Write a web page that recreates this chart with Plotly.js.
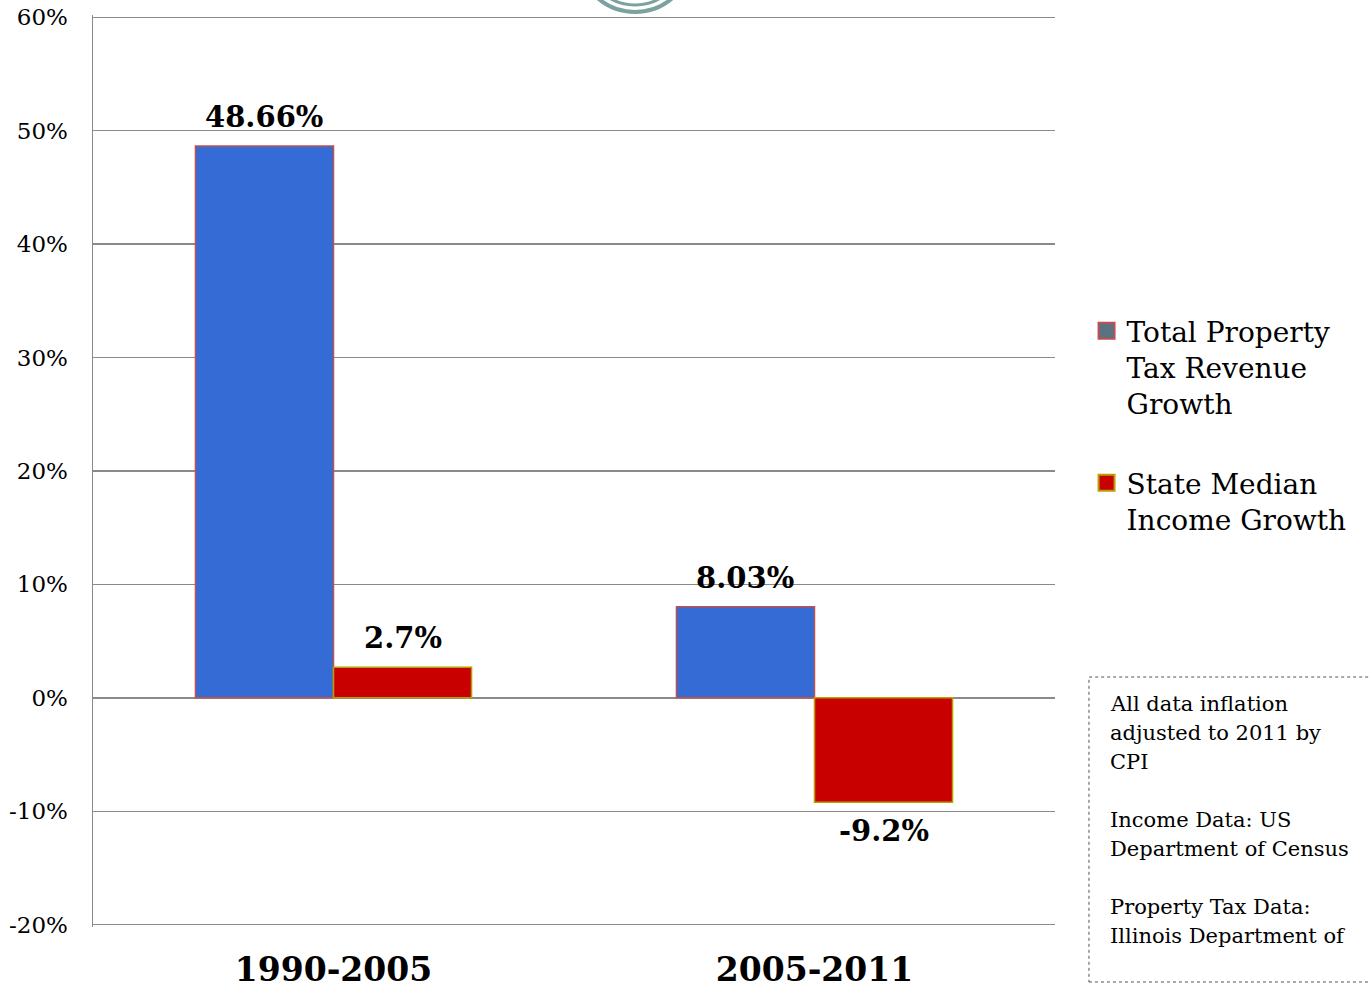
<!DOCTYPE html>
<html>
<head>
<meta charset="utf-8">
<script src="https://cdn.plot.ly/plotly-3.0.1.min.js"></script>
<style>html,body{margin:0;padding:0;background:#fff;}#chart{width:1370px;height:992px;}</style>
</head>
<body>
<div id="chart"></div>
<script>
var categories = ['1990-2005', '2005-2011'];
var taxGrowth = [48.66, 8.03];
var incomeGrowth = [2.7, -9.2];
var seriesNames = ['Total Property<br>Tax Revenue<br>Growth', 'State Median<br>Income Growth'];
var tickValues = [-20, -10, 0, 10, 20, 30, 40, 50, 60];
var tickLabels = ['-20%', '-10%', '0%', '10%', '20%', '30%', '40%', '50%', '60%'];
var noteLines = ['All data inflation', 'adjusted to 2011 by', 'CPI', '', 'Income Data: US',
                 'Department of Census', '', 'Property Tax Data:', 'Illinois Department of'];

var serif = 'DejaVu Serif, Georgia, serif';
var barGap = 0.426;
function pct(v) { return v + '%'; }

var traces = [
  {
    type: 'bar', x: categories, y: taxGrowth, name: seriesNames[0], showlegend: false,
    marker: {color: '#346bd4', line: {color: '#c0504d', width: 1.5}}
  },
  {
    type: 'bar', x: categories, y: incomeGrowth, name: seriesNames[1], showlegend: false,
    marker: {color: '#c80000', line: {color: '#b8a000', width: 1.5}}
  },
  {
    type: 'scatter', mode: 'markers', x: [null], y: [null], name: seriesNames[0], legendgroup: 'a',
    marker: {symbol: 'square', size: 18, color: '#5a7282', line: {color: '#c0504d', width: 2}}
  },
  {
    type: 'scatter', mode: 'markers', x: [null], y: [null], name: seriesNames[1], legendgroup: 'b',
    marker: {symbol: 'square', size: 18, color: '#c80000', line: {color: '#b8a000', width: 2}}
  }
];

// value labels, positioned through the category axis (bar centre = index -/+ quarter of group width)
var barOffset = (1 - barGap) / 4;
var labelAnnotations = [];
[taxGrowth, incomeGrowth].forEach(function (series, s) {
  series.forEach(function (v, i) {
    labelAnnotations.push({
      xref: 'x', yref: 'y', x: i + (s === 0 ? -barOffset : barOffset), y: v,
      xanchor: 'center', yanchor: v >= 0 ? 'bottom' : 'top', yshift: v >= 0 ? 10 : -10,
      showarrow: false, text: pct(v),
      font: {family: serif, size: 29, color: '#000', weight: 'bold'}
    });
  });
});

// source note, one line per annotation to keep the original line spacing
var noteAnnotations = noteLines.map(function (line, i) {
  return {
    xref: 'paper', yref: 'paper', x: 1.0551, y: 0.2599, yshift: -29 * i,
    xanchor: 'left', yanchor: 'top', align: 'left', showarrow: false, text: line,
    font: {family: serif, size: 21, color: '#000'}
  };
});

var layout = {
  width: 1370, height: 992,
  margin: {l: 93, r: 315, t: 15, b: 65},
  paper_bgcolor: '#fff', plot_bgcolor: '#fff',
  barmode: 'group', bargap: barGap, bargroupgap: 0,
  font: {family: serif, color: '#000'},
  xaxis: {
    type: 'category', showgrid: false, showline: false, zeroline: false,
    ticks: '', ticklabelstandoff: 20,
    tickfont: {family: serif, size: 33, color: '#000', weight: 'bold'}
  },
  yaxis: {
    range: [-20.2, 60.2], tickvals: tickValues, ticktext: tickLabels,
    showgrid: true, gridcolor: '#8a8a8a', gridwidth: 1.5,
    zeroline: true, zerolinecolor: '#8a8a8a', zerolinewidth: 1.5,
    showline: true, linecolor: '#8a8a8a', linewidth: 1.5,
    ticks: '', ticklabelstandoff: 19,
    tickfont: {family: serif, size: 23, color: '#000'}
  },
  legend: {
    x: 1.0328, xanchor: 'left', y: 0.681, yanchor: 'top',
    font: {family: serif, size: 28, color: '#000'},
    bgcolor: 'rgba(0,0,0,0)', tracegroupgap: 40, valign: 'top', traceorder: 'grouped'
  },
  showlegend: true,
  shapes: [
    {type: 'rect', xref: 'paper', yref: 'paper', x0: 1.0353, x1: 1.34, y0: -0.0603, y1: 0.2741,
     line: {color: '#555', width: 1, dash: 'dot'}, fillcolor: 'rgba(0,0,0,0)'},
    {type: 'circle', xref: 'paper', yref: 'paper', x0: 0.5042, x1: 0.6227, y0: 1.0033, y1: 1.1283,
     line: {color: '#7aa3a0', width: 4}},
    {type: 'circle', xref: 'paper', yref: 'paper', x0: 0.5114, x1: 0.6154, y0: 1.011, y1: 1.1206,
     line: {color: '#7aa3a0', width: 3}}
  ],
  annotations: labelAnnotations.concat(noteAnnotations)
};

Plotly.newPlot('chart', traces, layout, {displayModeBar: false, staticPlot: true});
</script>
</body>
</html>
